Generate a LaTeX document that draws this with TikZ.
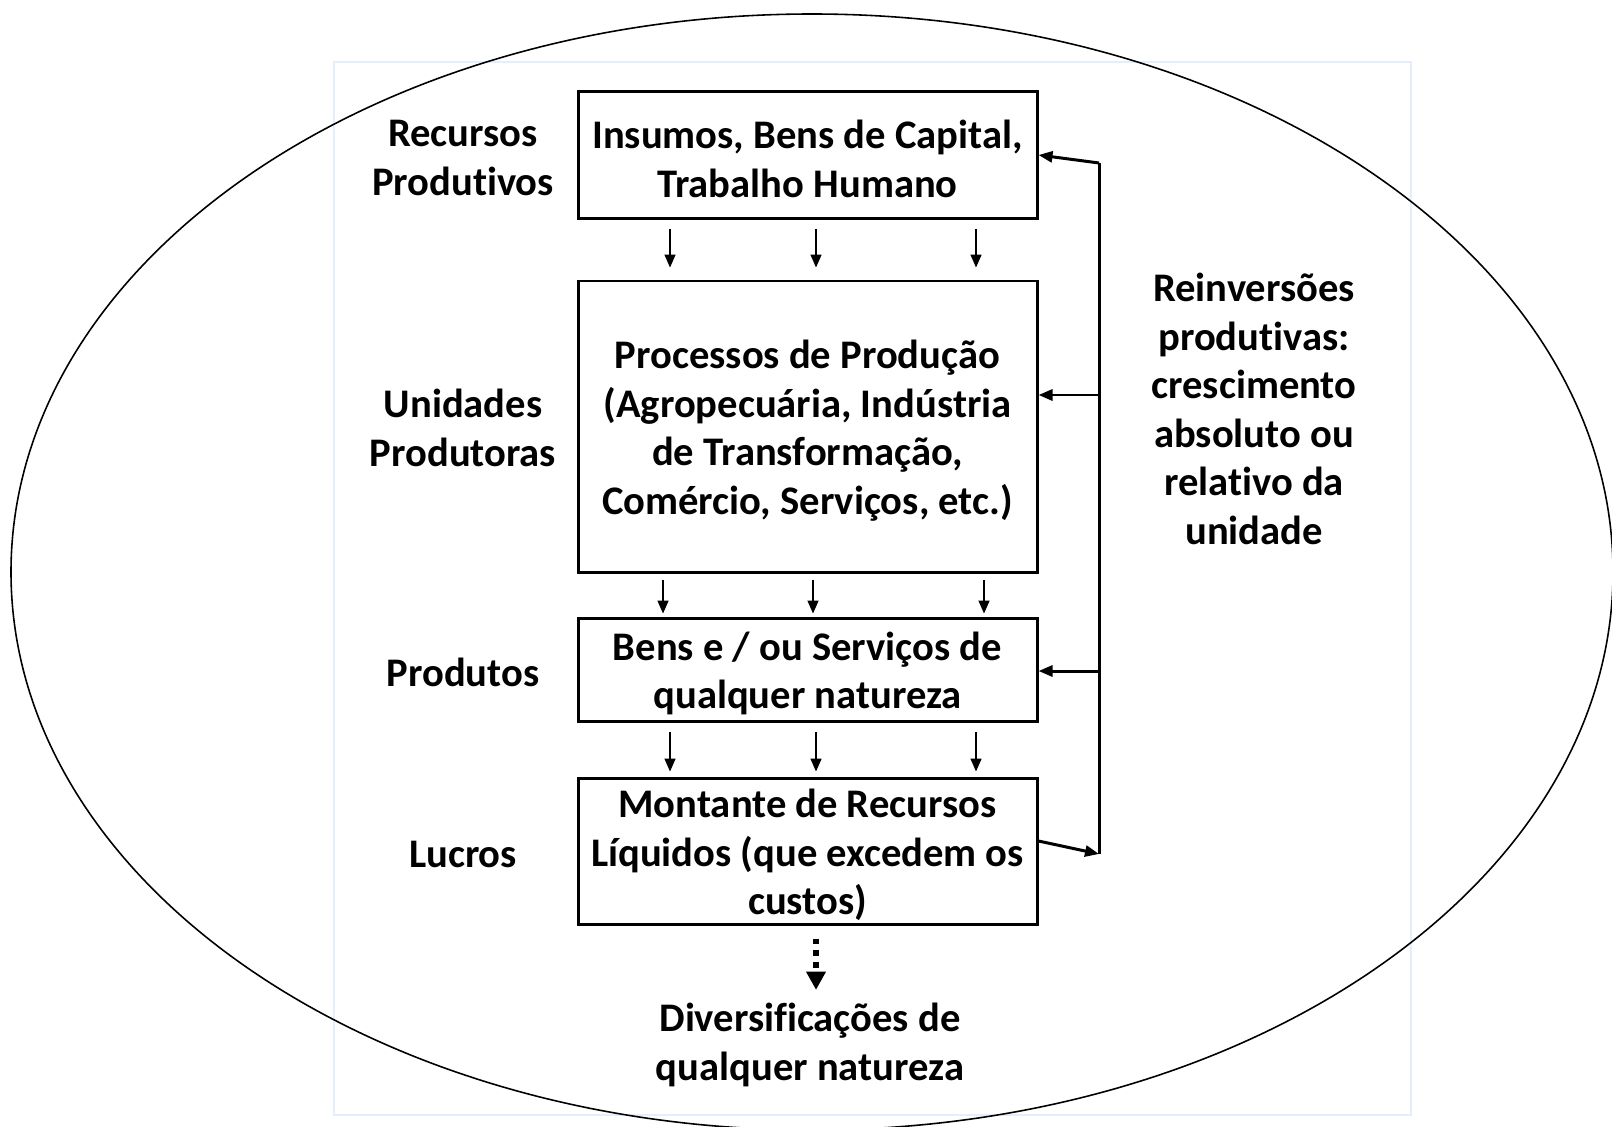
\documentclass[tikz,border=0pt]{standalone}
\usepackage{fontspec}
\setmainfont{Carlito}[Ligatures={NoCommon}]
\usetikzlibrary{arrows.meta,calc}
\definecolor{moldura}{RGB}{228,238,252}
\tikzset{
	caixa/.style={draw, line width=0.85pt, minimum width=4.59cm, inner sep=0pt},
	rotulo/.style={align=center, inner sep=0pt, font=\bfseries\fontsize{11.55}{13.8}\selectfont},
	seta/.style={line width=0.45pt, -{Triangle[length=0.13cm,width=0.11cm]}},
	retorno/.style={line width=0.85pt, -{Triangle[length=0.14cm,width=0.11cm]}},
	pontilhada/.style={line width=1.7pt, dash pattern=on 1.7pt off 1.6pt, -{Triangle[length=0.18cm,width=0.2cm,line width=0.3pt]}}
}

\begin{document}
\begin{tikzpicture}[y=-1cm]
			%%%%% START %%%%%
			\useasboundingbox (0,0) rectangle (16.12,11.26);
			
			\draw[line width=0.6pt, color=moldura] (3.34,0.617) rectangle (14.11,11.15);
			\draw[line width=0.45pt] (8.12,5.72) ellipse [x radius=8.01, y radius=5.58];
			
			\node[caixa, minimum height=1.265cm] (insumos) at (8.075,1.55) {};
			\node[caixa, minimum height=2.91cm] (processos) at (8.075,4.265) {};
			\node[caixa, minimum height=1.03cm] (bens) at (8.075,6.695) {};
			\node[caixa, minimum height=1.46cm] (montante) at (8.075,8.51) {};
			
			\node[rotulo] (insumos-txt) at ([yshift=-0.04cm]insumos.center) {Insumos, Bens de Capital,\\Trabalho Humano};
			\node[rotulo] (processos-txt) at ([yshift=-0.04cm]processos.center) {Processos de Produção\\(Agropecuária, Indústria\\de Transformação,\\Comércio, Serviços, etc.)};
			\node[rotulo] (bens-txt) at ([yshift=-0.04cm]bens.center) {Bens e / ou Serviços de\\qualquer natureza};
			\node[rotulo] (montante-txt) at ([yshift=-0.04cm]montante.center) {Montante de Recursos\\Líquidos (que excedem os\\custos)};
			
			\node[rotulo] (recursos) at (4.63,1.58) {Recursos\\Produtivos};
			\node[rotulo] (unidades) at (4.63,4.28) {Unidades\\Produtoras};
			\node[rotulo] (produtos) at (4.63,6.72) {Produtos};
			\node[rotulo] (lucros) at (4.63,8.54) {Lucros};
			\node[rotulo] (reinversoes) at (12.54,4.09) {Reinversões\\produtivas:\\crescimento\\absoluto ou\\relativo da\\unidade};
			\node[rotulo] (diversificacoes) at (8.10,10.45) {Diversificações de\\qualquer natureza};
			
			\foreach \dx in {-1.375,0.085,1.685}
				\draw[seta, shorten <=0.09cm, shorten >=0.12cm] ([xshift=\dx cm]insumos.south) -- ([xshift=\dx cm]processos.north);
			\foreach \dx in {-1.445,0.055,1.765}
				\draw[seta, shorten <=0.06cm, shorten >=0.03cm] ([xshift=\dx cm]processos.south) -- ([xshift=\dx cm]bens.north);
			\foreach \dx in {-1.375,0.085,1.685}
				\draw[seta, shorten <=0.09cm, shorten >=0.05cm] ([xshift=\dx cm]bens.south) -- ([xshift=\dx cm]montante.north);
			
			\coordinate (topo) at (10.99,1.63);
			\coordinate (base) at (10.99,8.54);
			\coordinate (ramo2) at (10.99,3.95);
			\coordinate (ramo3) at (10.99,6.71);
			
			\draw[retorno] ([yshift=0.1cm]montante.east) -- (base);
			\draw[line width=0.85pt] (base) -- (topo);
			\draw[retorno] (topo) -- (insumos.east);
			\draw[retorno] (ramo2) -- (ramo2 -| processos.east);
			\draw[retorno] (ramo3) -- (ramo3 -| bens.east);
			
			\draw[pontilhada] ([xshift=0.085cm,yshift=-0.13cm]montante.south) -- ++(0,0.51);
			
			%%%%% END %%%%%
\end{tikzpicture}
\end{document}
